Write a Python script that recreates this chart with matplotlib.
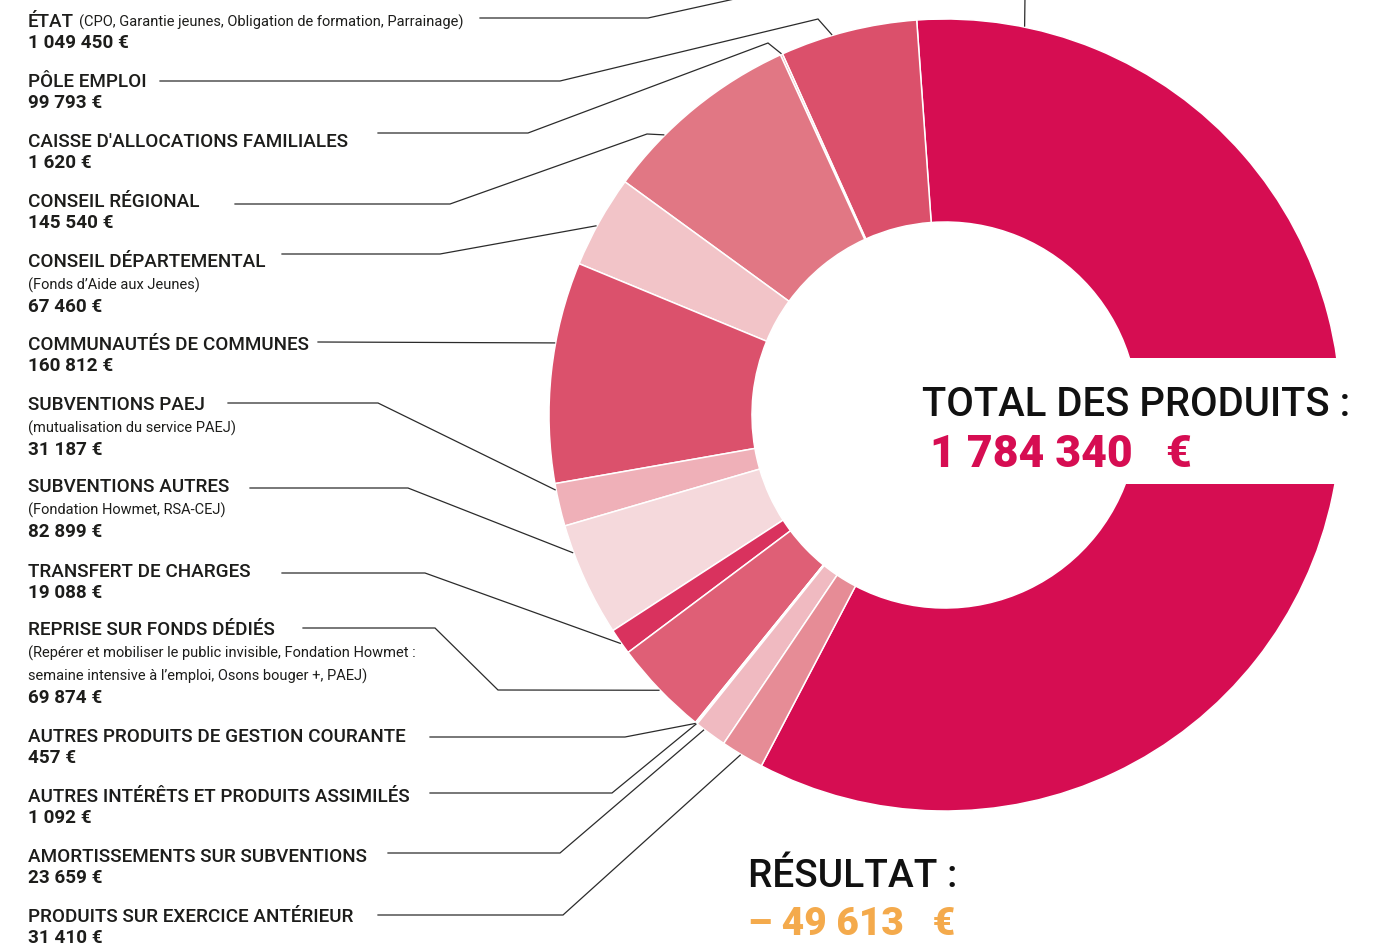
import matplotlib
matplotlib.use("Agg")
import matplotlib.pyplot as plt
from matplotlib.patches import Rectangle
import numpy as np

# ---------------- data ----------------
categories = ["ÉTAT", "PÔLE EMPLOI", "CAISSE D'ALLOCATIONS FAMILIALES", "CONSEIL RÉGIONAL",
              "CONSEIL DÉPARTEMENTAL", "COMMUNAUTÉS DE COMMUNES", "SUBVENTIONS PAEJ",
              "SUBVENTIONS AUTRES", "TRANSFERT DE CHARGES", "REPRISE SUR FONDS DÉDIÉS",
              "AUTRES PRODUITS DE GESTION COURANTE", "AUTRES INTÉRÊTS ET PRODUITS ASSIMILÉS",
              "AMORTISSEMENTS SUR SUBVENTIONS", "PRODUITS SUR EXERCICE ANTÉRIEUR"]
values = [1049450, 99793, 1620, 145540, 67460, 160812, 31187, 82899, 19088, 69874,
          457, 1092, 23659, 31410]
details = ["(CPO, Garantie jeunes, Obligation de formation, Parrainage)", "", "", "",
           "(Fonds d’Aide aux Jeunes)", "", "(mutualisation du service PAEJ)",
           "(Fondation Howmet, RSA-CEJ)", "",
           "(Repérer et mobiliser le public invisible, Fondation Howmet :\n"
           "semaine intensive à l’emploi, Osons bouger +, PAEJ)",
           "", "", "", ""]
colors = ["#D60D52", "#DB506B", "#EBA3AC", "#E17784", "#F2C4C8", "#DB516C", "#EFB0B8",
          "#F5D9DC", "#D9325E", "#DF5F76", "#F8DDE1", "#F2C2C8", "#F0BAC1", "#E68C96"]
total_label = "TOTAL DES PRODUITS :"
total_value = "1 784 340   €"
result_label = "RÉSULTAT :"
result_value = "– 49 613   €"

# ---------------- layout ----------------
W, H = 1382, 949
FONT = ["Roboto", "DejaVu Sans"]
TXT = "#1d1d1b"
LINE = "#2b2b2b"

def Y(p):
    return H - p

fig = plt.figure(figsize=(W / 100, H / 100), dpi=100)
ax = fig.add_axes([0, 0, 1, 1])

cx, cy = 945, Y(415)
R, RING = 396, 203
start = 94.1 - 360.0 * values[0] / sum(values)
wedges, _ = ax.pie(values, colors=colors, startangle=start, counterclock=True,
                   radius=R, center=(cx, cy), frame=True,
                   wedgeprops=dict(width=RING, edgecolor="white", linewidth=1.1))
ax.set_xlim(0, W)
ax.set_ylim(0, H)
ax.set_aspect("auto")
ax.axis("off")

# white band behind the total
ax.add_patch(Rectangle((1000, Y(484)), 400, 126, facecolor="white", edgecolor="none", zorder=3))

# label blocks
title_base = [27, 87, 147, 207, 267, 350, 410, 492, 577, 635, 742, 802, 862, 922]
leader_paths = [
    [(480, 18), (648, 18), (748, -4), (1025, -4)],
    [(160, 81), (560, 81), (818, 19)],
    [(378, 133), (528, 133), (768, 43)],
    [(235, 204), (450, 204), (647, 134)],
    [(282, 254), (440, 254)],
    [(318, 342)],
    [(228, 403), (378, 403)],
    [(250, 488), (408, 488)],
    [(282, 573), (425, 573)],
    [(303, 628), (435, 628), (498, 690)],
    [(430, 737), (625, 737)],
    [(430, 793), (612, 793)],
    [(388, 853), (560, 853)],
    [(378, 915), (563, 915)],
]
leader_frac = [0.926, 0.62, 0.5, 0.70, 0.56, 0.37, 0.14, 0.24, 0.55, 0.5, 0.5, 0.5, 0.27, 0.46]

fig.canvas.draw()
renderer = fig.canvas.get_renderer()

for i, (name, val, det) in enumerate(zip(categories, values, details)):
    yb = title_base[i]
    t = ax.text(28, Y(yb), name, fontsize=13.6, fontweight="medium", family=FONT,
                color=TXT, va="baseline", zorder=4)
    y = yb
    if i == 0:
        bb = t.get_window_extent(renderer)
        ax.text(bb.x1 + 5, Y(yb), det, fontsize=10.5, family=FONT, color=TXT,
                va="baseline", zorder=4)
    elif det:
        for line in det.split("\n"):
            y += 23
            ax.text(28, Y(y), line, fontsize=10.5, family=FONT, color=TXT,
                    va="baseline", zorder=4)
        y += 1
    y += 21
    vtxt = f"{val:,}".replace(",", " ") + " €"
    ax.text(28, Y(y), vtxt, fontsize=13.6, fontweight="bold", family=FONT, color=TXT,
            va="baseline", zorder=4)

    # leader line
    w = wedges[i]
    ang = np.radians(w.theta1 + leader_frac[i] * (w.theta2 - w.theta1))
    ex, ey = cx + (R + 1) * np.cos(ang), cy + (R + 1) * np.sin(ang)
    xs = [p[0] for p in leader_paths[i]] + [ex]
    ys = [Y(p[1]) for p in leader_paths[i]] + [ey]
    ax.plot(xs, ys, color=LINE, lw=0.9, zorder=2, solid_joinstyle="miter")

# totals
ax.text(922, Y(416), total_label, fontsize=28.8, fontweight="medium", family=FONT,
        color="#111111", va="baseline", zorder=5)
ax.text(930, Y(467), total_value, fontsize=32, fontweight="black", family=FONT,
        color="#D60D52", va="baseline", zorder=5)
ax.text(748, Y(887), result_label, fontsize=28, fontweight="medium", family=FONT,
        color="#111111", va="baseline", zorder=5)
ax.text(748, Y(935), result_value, fontsize=28, fontweight="black", family=FONT,
        color="#F4AA4C", va="baseline", zorder=5)

fig.savefig("out.png", dpi=100, facecolor="white")
